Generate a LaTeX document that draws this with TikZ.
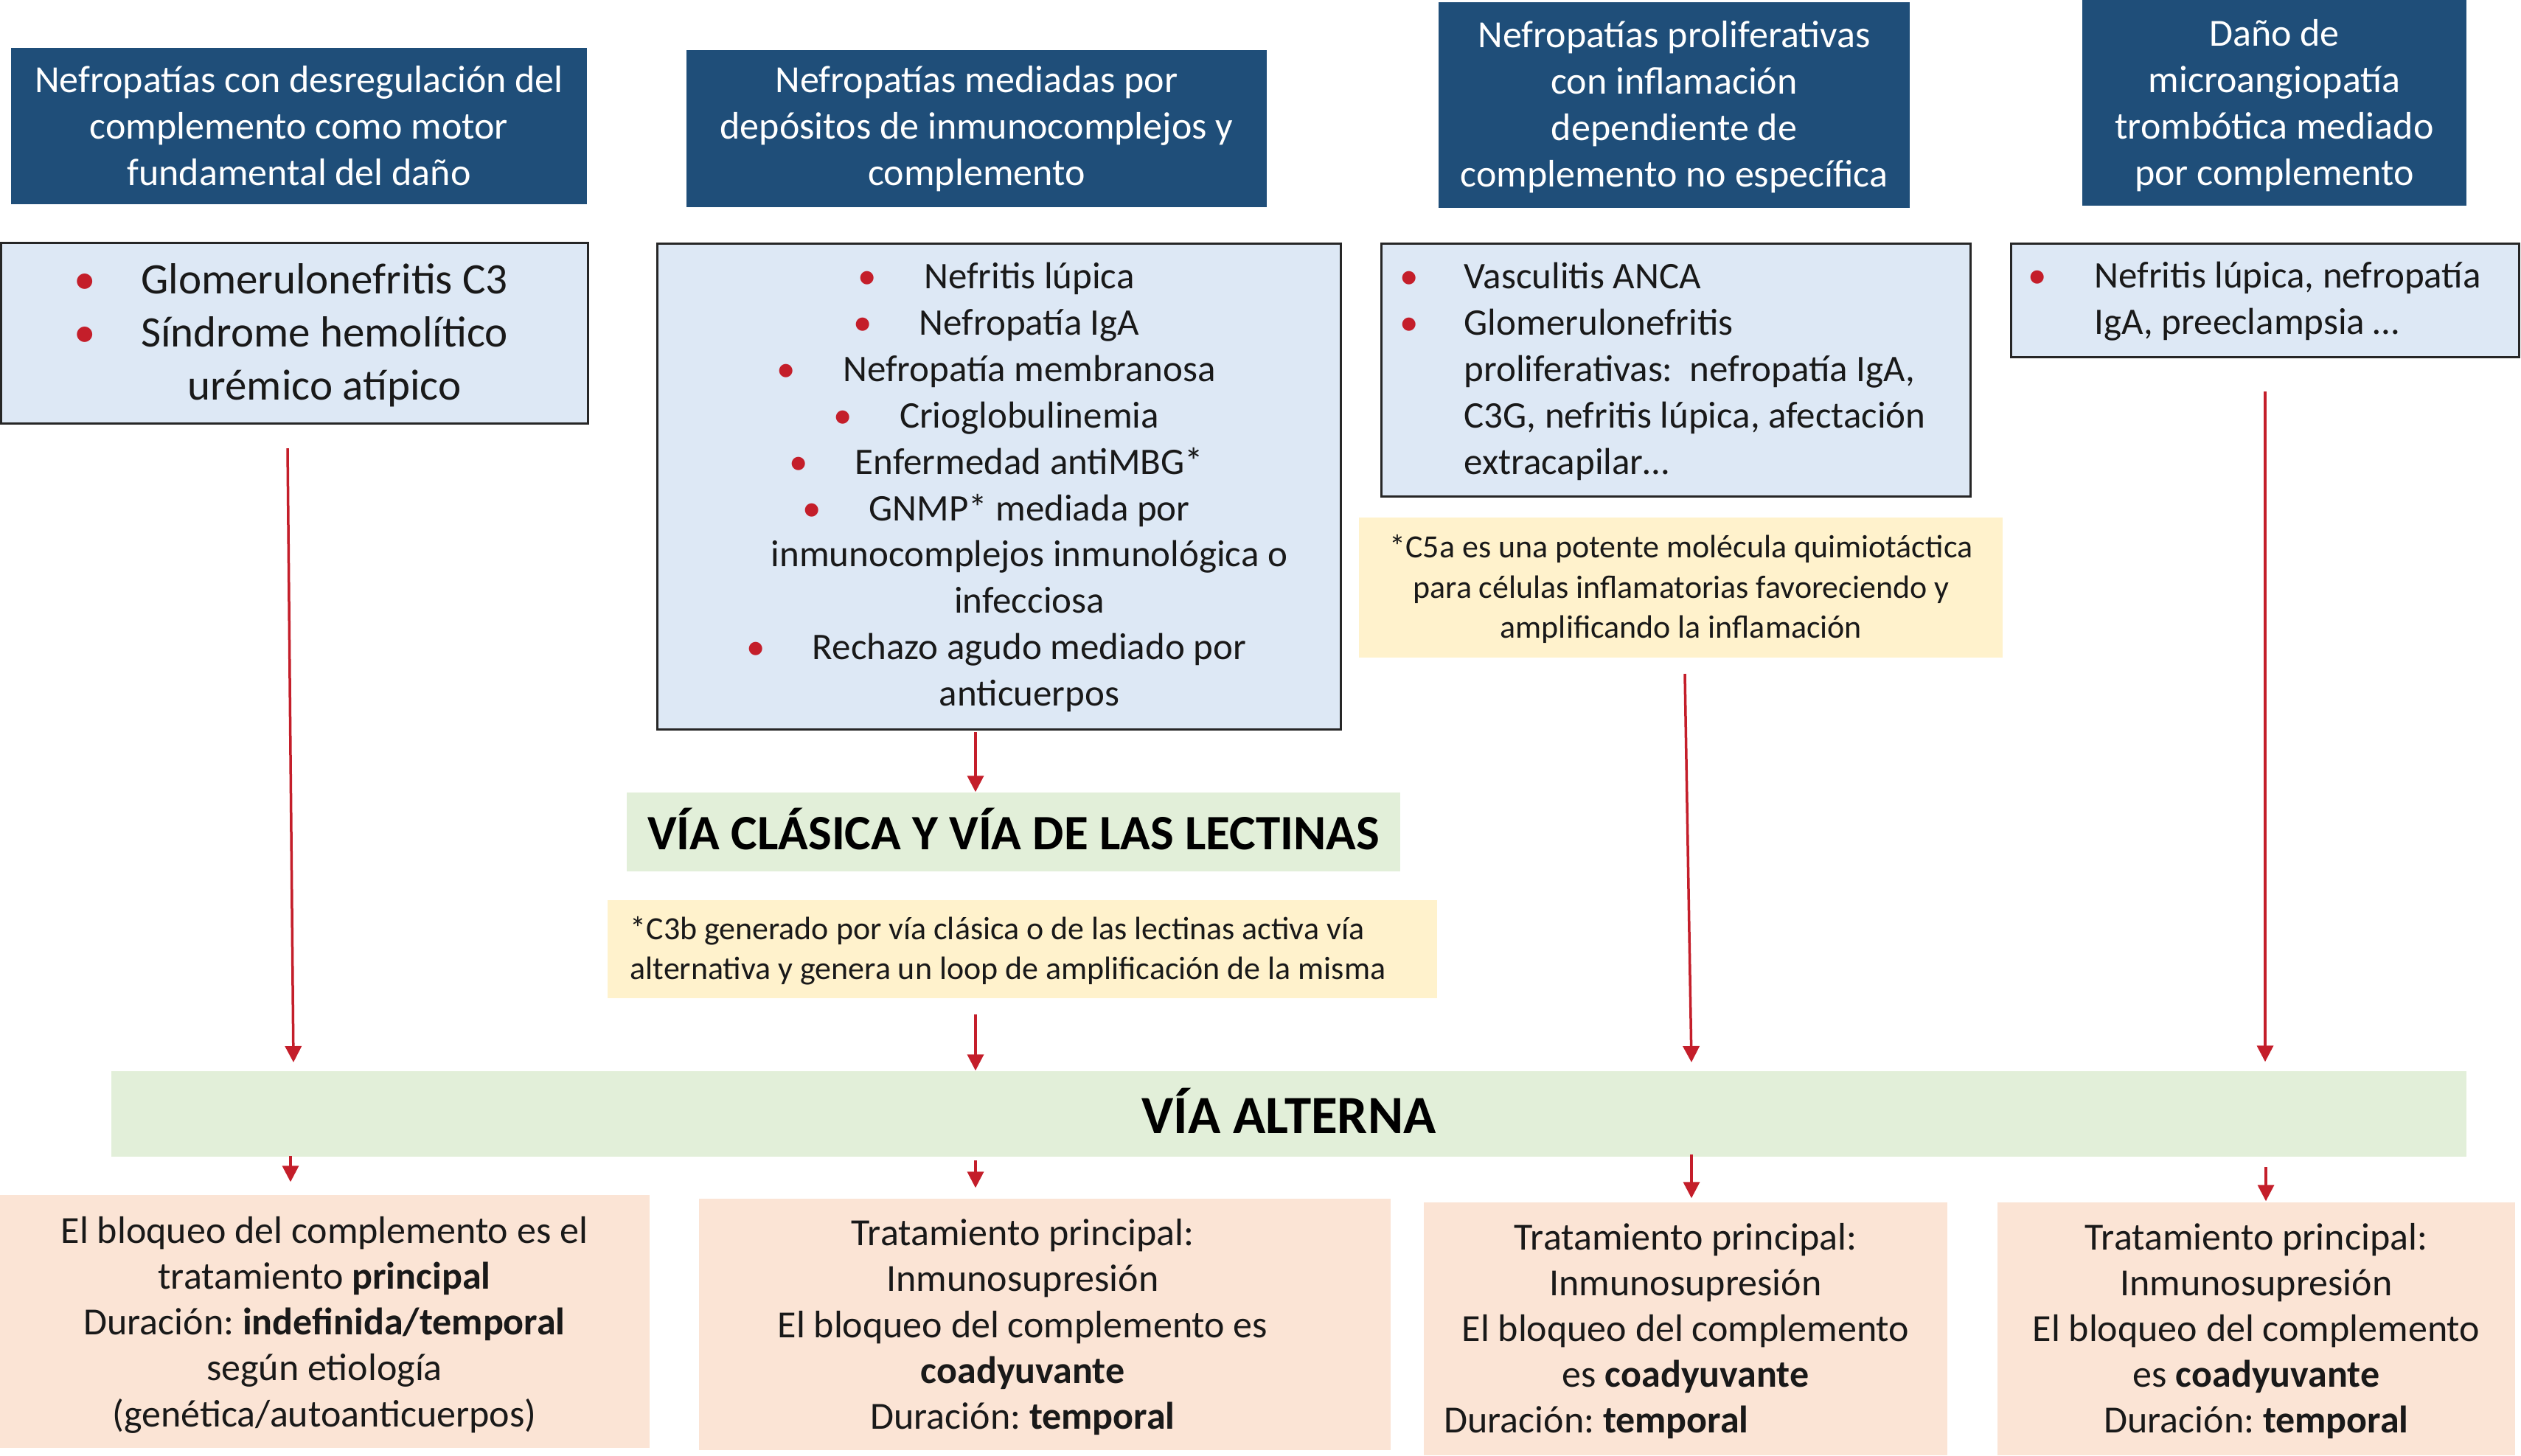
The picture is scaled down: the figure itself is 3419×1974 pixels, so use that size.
\documentclass[tikz,border=0pt]{standalone}
\usepackage{fontspec}
\setmainfont{Carlito}
\usetikzlibrary{arrows.meta}
\frenchspacing
\definecolor{hdrblue}{HTML}{1F4E79}
\definecolor{lblue}{HTML}{DDE8F5}
\definecolor{noteyel}{HTML}{FFF2CC}
\definecolor{lgreen}{HTML}{E2EFD9}
\definecolor{peach}{HTML}{FBE4D5}
\definecolor{redc}{HTML}{C41E2A}
\newcommand\fsz[2]{\fontsize{#1}{#2}\selectfont}
\newcommand\bu[1]{\llap{\makebox[#1][c]{\textcolor{redc}{\textbullet}}}}
\newcommand\shiftbox[2]{\raisebox{#1}[\height][\depth]{#2}}
\tikzset{
  hdrbox/.style={fill=hdrblue, text=white, inner sep=0pt, align=center, font=\fsz{14.8pt}{17.9pt}},
  listbox/.style={fill=lblue, draw=black!85, line width=0.3mm, inner sep=0pt},
  notebox/.style={fill=noteyel, inner sep=0pt},
  greenbox/.style={fill=lgreen, inner sep=0pt, font=\bfseries},
  peachbox/.style={fill=peach, inner sep=0pt},
  txt/.style={inner sep=0pt, text=black!90},
  arr/.style={draw=redc, line width=0.35mm, -{Triangle[length=2.2mm,width=2.2mm]}}
}
\begin{document}
\begin{tikzpicture}[x=0.1mm, y=-0.1mm]
\useasboundingbox (0,0) rectangle (3419,1974);
% headers
\node[hdrbox, minimum width=78.1mm, minimum height=21.2mm] (h1) at (405.5,171) {Nefropatías con desregulación del\\complemento como motor\\fundamental del daño};
\node[hdrbox, minimum width=78.7mm, minimum height=21.3mm] (h2) at (1324.5,174.5) {Nefropatías mediadas por\\depósitos de inmunocomplejos y\\complemento};
\node[hdrbox, minimum width=63.9mm, minimum height=27.9mm] (h3) at (2270.5,142.5) {\shiftbox{-0.4mm}{\begin{tabular}{@{}c@{}}Nefropatías proliferativas\\con inflamación\\dependiente de\\complemento no específica\end{tabular}}};
\node[hdrbox, minimum width=52.1mm, minimum height=27.9mm] (h4) at (3084.5,139.5) {\shiftbox{-0.5mm}{\begin{tabular}{@{}c@{}}Daño de\\microangiopatía\\trombótica mediado\\por complemento\end{tabular}}};
% list boxes
\node[listbox, minimum width=79.6mm, minimum height=24.5mm] (b1) at (399,451.5) {};
\node[listbox, minimum width=92.7mm, minimum height=65.9mm] (b2) at (1354.5,659.5) {};
\node[listbox, minimum width=79.9mm, minimum height=34.3mm] (b3) at (2272.5,501.5) {};
\node[listbox, minimum width=68.9mm, minimum height=15.4mm] (b4) at (3071.5,407) {};
% notes
\node[notebox, minimum width=87.3mm, minimum height=19.0mm] (n1) at (2279.5,797) {};
\node[notebox, minimum width=112.5mm, minimum height=13.3mm] (n2) at (1386.5,1287.5) {};
% green
\node[greenbox, minimum width=104.9mm, minimum height=10.7mm, font=\bfseries\fsz{19.1pt}{22pt}] (g1) at (1374.5,1128.5) {\shiftbox{0.4mm}{VÍA CLÁSICA Y VÍA DE LAS LECTINAS}};
\node[greenbox, minimum width=319.4mm, minimum height=11.6mm, font=\bfseries\fsz{20.8pt}{24pt}] (g2) at (1748,1511) {\shiftbox{0.4mm}{VÍA ALTERNA}};
% peach
\node[peachbox, minimum width=88.1mm, minimum height=34.3mm] (p1) at (440.5,1792.5) {};
\node[peachbox, minimum width=93.8mm, minimum height=34.1mm] (p2) at (1417,1796.5) {};
\node[peachbox, minimum width=71.0mm, minimum height=34.3mm] (p3) at (2286,1802.5) {};
\node[peachbox, minimum width=70.2mm, minimum height=34.3mm] (p4) at (3060,1802.5) {};
% texts
\node[txt, align=center, font=\fsz{16.8pt}{20.5pt}] (tb1) at (440,455) {\bu{15.2mm}Glomerulonefritis C3\\\bu{15.2mm}Síndrome hemolítico\\urémico atípico};
\node[txt, align=center, font=\fsz{14.5pt}{17.9pt}] (tb2) at (1396,661) {\bu{15.4mm}Nefritis lúpica\\\bu{15.4mm}Nefropatía IgA\\\bu{15.4mm}Nefropatía membranosa\\\bu{15.4mm}Crioglobulinemia\\\bu{15.4mm}Enfermedad antiMBG*\\\bu{15.4mm}GNMP* mediada por\\inmunocomplejos inmunológica o\\infecciosa\\\bu{15.4mm}Rechazo agudo mediado por\\anticuerpos};
\node[txt, align=left, anchor=west, font=\fsz{14.5pt}{17.9pt}] (tb3) at (1985,504) {\bu{15mm}Vasculitis ANCA\\\bu{15mm}Glomerulonefritis\\proliferativas:~~nefropatía IgA,\\C3G, nefritis lúpica, afectación\\extracapilar…};
\node[txt, align=left, anchor=west, font=\fsz{14.5pt}{17.9pt}] (tb4) at (2840,409) {\bu{15.6mm}Nefritis lúpica, nefropatía\\IgA, preeclampsia …};
\node[txt, align=center, font=\fsz{12.5pt}{15.4pt}] (tn1) at (2280,799) {*C5a es una potente molécula quimiotáctica\\para células inflamatorias favoreciendo y\\amplificando la inflamación};
\node[txt, align=left, anchor=west, font=\fsz{12.5pt}{15.4pt}] (tn2) at (854,1290) {*C3b generado por vía clásica o de las lectinas activa vía\\alternativa y genera un loop de amplificación de la misma};
\node[txt, align=center, font=\fsz{14.8pt}{17.7pt}] (tp1) at (440,1797) {El bloqueo del complemento es el\\tratamiento \textbf{principal}\\Duración: \textbf{indefinida/temporal}\\según etiología\\(genética/autoanticuerpos)};
\node[txt, align=center, font=\fsz{14.8pt}{17.7pt}] (tp2) at (1387,1800) {Tratamiento principal:\\Inmunosupresión\\El bloqueo del complemento es\\\textbf{coadyuvante}\\Duración: \textbf{temporal}};
\node[txt, align=center, font=\fsz{14.8pt}{17.7pt}] (tp3) at (2286,1805.5) {Tratamiento principal:\\Inmunosupresión\\El bloqueo del complemento\\es \textbf{coadyuvante}\\Duración: \textbf{temporal}\rule{24.2mm}{0pt}};
\node[txt, align=center, font=\fsz{14.8pt}{17.7pt}] (tp4) at (3060,1805.5) {Tratamiento principal:\\Inmunosupresión\\El bloqueo del complemento\\es \textbf{coadyuvante}\\Duración: \textbf{temporal}};
% arrow end coordinates
\coordinate (a1s) at (390,608);
\coordinate (a1e) at (398,1441);
\coordinate (a2s) at (1323,993);
\coordinate (a3s) at (1323,1376);
\coordinate (a4s) at (2285,914);
\coordinate (a4e) at (2294,1441);
\coordinate (a5s) at (3072,531);
\coordinate (c1s) at (394,1568);
\coordinate (c2s) at (1323,1574);
\coordinate (c3s) at (2294,1566);
\coordinate (c4s) at (3073,1583);
% arrows
\draw[arr] (a1s) -- (a1e);
\draw[arr] (a2s) -- (a2s |- g1.north) ;
\draw[arr] (a3s) -- (a3s |- g2.north);
\draw[arr] (a4s) -- (a4e);
\draw[arr, shorten >=1.2mm] (a5s) -- (a5s |- g2.north);
\draw[arr, shorten >=1.7mm] (c1s) -- (c1s |- p1.north);
\draw[arr, shorten >=1.4mm] (c2s) -- (c2s |- p2.north);
\draw[arr, shorten >=0.5mm] (c3s) -- (c3s |- p3.north);
\draw[arr, shorten >=0.1mm] (c4s) -- (c4s |- p4.north);
\end{tikzpicture}
\end{document}
